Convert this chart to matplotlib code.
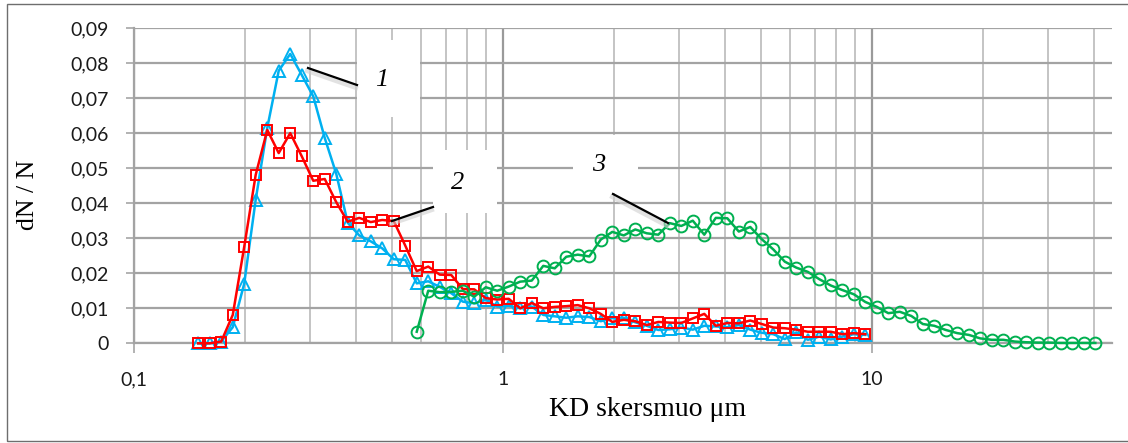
import matplotlib
matplotlib.use('Agg')
import matplotlib.pyplot as plt
from matplotlib.patches import Rectangle
from matplotlib.lines import Line2D
from matplotlib.ticker import LogLocator, NullFormatter

# ---------------- data ----------------
x_bins = [0.1493, 0.1604, 0.1723, 0.1852, 0.1989, 0.2137, 0.2297, 0.2467, 0.2651, 0.2848,
          0.3060, 0.3288, 0.3532, 0.3795, 0.4077, 0.4381, 0.4706, 0.5057, 0.5433, 0.5837,
          0.6271, 0.6738, 0.7239, 0.7778, 0.8357, 0.8979, 0.9647, 1.0365, 1.1136, 1.1965,
          1.2855, 1.3811, 1.4839, 1.5943, 1.7129, 1.8404, 1.9773, 2.1245, 2.2825, 2.4524,
          2.6349, 2.8309, 3.0416, 3.2679, 3.5110, 3.7723, 4.0530, 4.3546, 4.6786, 5.0267,
          5.4007, 5.8026, 6.2343, 6.6981, 7.1965, 7.7320, 8.3073, 8.9254, 9.5895, 10.30,
          11.07, 11.89, 12.78, 13.73, 14.75, 15.85, 17.02, 18.29, 19.65, 21.11,
          22.68, 24.37, 26.18, 28.13, 30.22, 32.47, 34.89, 37.49, 40.28]

curve1_y = [0.0000, 0.0000, 0.0005, 0.0046, 0.0170, 0.0410, 0.0615, 0.0778, 0.0826, 0.0766,
            0.0705, 0.0586, 0.0484, 0.0344, 0.0308, 0.0291, 0.0271, 0.0240, 0.0238, 0.0171,
            0.0177, 0.0161, 0.0143, 0.0119, 0.0114, 0.0124, 0.0105, 0.0107, 0.0100, 0.0105,
            0.0081, 0.0077, 0.0073, 0.0077, 0.0075, 0.0063, 0.0072, 0.0073, 0.0060, 0.0050,
            0.0038, 0.0040, 0.0045, 0.0039, 0.0050, 0.0048, 0.0046, 0.0052, 0.0039, 0.0030,
            0.0026, 0.0012, 0.0031, 0.0010, 0.0019, 0.0011, 0.0019, 0.0026, 0.0024]

curve2_y = [0.0000, 0.0000, 0.0005, 0.0081, 0.0275, 0.0481, 0.0609, 0.0543, 0.0600, 0.0534,
            0.0464, 0.0469, 0.0403, 0.0347, 0.0358, 0.0346, 0.0352, 0.0349, 0.0279, 0.0206,
            0.0219, 0.0196, 0.0195, 0.0155, 0.0154, 0.0129, 0.0125, 0.0127, 0.0100, 0.0115,
            0.0100, 0.0104, 0.0106, 0.0109, 0.0100, 0.0084, 0.0061, 0.0067, 0.0063, 0.0052,
            0.0061, 0.0059, 0.0058, 0.0071, 0.0084, 0.0050, 0.0058, 0.0057, 0.0065, 0.0055,
            0.0045, 0.0043, 0.0039, 0.0033, 0.0033, 0.0033, 0.0026, 0.0029, 0.0026]

curve3_y = [0.0033, 0.0150, 0.0146, 0.0147, 0.0150, 0.0133, 0.0160, 0.0150, 0.0162, 0.0176,
            0.0179, 0.0221, 0.0214, 0.0247, 0.0253, 0.0248, 0.0296, 0.0318, 0.0308, 0.0325,
            0.0314, 0.0310, 0.0343, 0.0335, 0.0350, 0.0310, 0.0358, 0.0357, 0.0319, 0.0332,
            0.0297, 0.0268, 0.0233, 0.0216, 0.0204, 0.0183, 0.0165, 0.0152, 0.0140, 0.0118,
            0.0104, 0.0086, 0.0090, 0.0078, 0.0055, 0.0050, 0.0038, 0.0029, 0.0024, 0.0014,
            0.0010, 0.0010, 0.0005, 0.0003, 0.0002, 0.0002, 0.0001, 0.0001, 0.0001, 0.0001]

curve1_x = x_bins[:59]
curve2_x = x_bins[:59]
curve3_x = x_bins[19:79]

y_ticks = [0, 0.01, 0.02, 0.03, 0.04, 0.05, 0.06, 0.07, 0.08, 0.09]
y_tick_labels = ["0", "0,01", "0,02", "0,03", "0,04", "0,05", "0,06", "0,07", "0,08", "0,09"]
x_ticks = [0.1, 1, 10]
x_tick_labels = ["0,1", "1", "10"]
curve_labels = ["1", "2", "3"]
x_title = "KD skersmuo μm"
y_title = "dN / N"

# ---------------- figure ----------------
W, H = 1128, 443
fig = plt.figure(figsize=(W / 100, H / 100), dpi=100)
fig.patch.set_facecolor('white')


def fx(px):
    return px / W


def fy(py):
    return 1 - py / H


ax_left, ax_right, ax_top, ax_bot = 134, 1112, 28, 343.3
ax = fig.add_axes([fx(ax_left), fy(ax_bot), (ax_right - ax_left) / W, (ax_bot - ax_top) / H])
ax.set_xscale('log')
ax.set_xlim(0.1, 44.7)
ax.set_ylim(0, 0.09)

tick_font = dict(family=['Lato', 'DejaVu Sans'], size=14, color='#1a1a1a')
ax.set_yticks(y_ticks)
ax.set_yticklabels(y_tick_labels, **tick_font)
ax.set_xticks(x_ticks)
ax.set_xticklabels(x_tick_labels, **tick_font)
ax.xaxis.set_minor_locator(LogLocator(base=10, subs=range(2, 10)))
ax.xaxis.set_minor_formatter(NullFormatter())

ax.tick_params(axis='y', which='major', length=6, width=1.2, color='#A6A6A6', pad=12, direction='out')
ax.tick_params(axis='x', which='major', length=7, width=1.2, color='#A6A6A6', pad=13, direction='out')
ax.tick_params(axis='x', which='minor', length=0)

ax.set_axisbelow(True)
ax.yaxis.grid(True, which='major', color='#A3A3A3', lw=1.6)
ax.xaxis.grid(True, which='minor', color='#C4C4C4', lw=1.4)
ax.xaxis.grid(True, which='major', color='#9A9A9A', lw=1.6)

for s in ['top', 'right']:
    ax.spines[s].set_visible(False)
for s in ['left', 'bottom']:
    ax.spines[s].set_color('#A3A3A3')
    ax.spines[s].set_linewidth(1.6)

ax.plot(curve1_x, curve1_y, color='#00B0F0', lw=1.8, marker='^', ms=8, mfc='none',
        mew=1.4, clip_on=False, zorder=3)
ax.plot(curve2_x, curve2_y, color='#FF0000', lw=1.8, marker='s', ms=7.5, mfc='none',
        mew=1.4, clip_on=False, zorder=4)
ax.plot(curve3_x, curve3_y, color='#00B050', lw=1.8, marker='o', ms=8.5, mfc='none',
        mew=1.4, clip_on=False, zorder=5)

# ---------------- callout labels ----------------
boxes = [(357, 40, 420, 117), (433, 150, 497, 213), (573, 135, 638, 193)]
label_pos = [(382, 80), (458, 183), (599, 165)]
leaders = [((308, 68), (357, 85)), ((392, 221), (433, 207)), ((613, 194), (668, 223))]

for (x0, y0, x1, y1), (lx, ly), ((ax0, ay0), (ax1, ay1)), txt in zip(boxes, label_pos, leaders, curve_labels):
    fig.add_artist(Rectangle((fx(x0), fy(y1)), (x1 - x0) / W, (y1 - y0) / H,
                             transform=fig.transFigure, facecolor='white', edgecolor='none', zorder=3))
    # soft shadow
    fig.add_artist(Line2D([fx(ax0 - 1), fx(ax1 - 1)], [fy(ay0 + 3), fy(ay1 + 3)],
                          transform=fig.transFigure, color='#CFCFCF', lw=3, alpha=0.6, zorder=4))
    fig.add_artist(Line2D([fx(ax0), fx(ax1)], [fy(ay0), fy(ay1)],
                          transform=fig.transFigure, color='black', lw=1.6, zorder=5))
    fig.text(fx(lx), fy(ly), txt, ha='center', va='center', fontsize=19,
             family='Liberation Serif', style='italic', zorder=6)

# ---------------- axis titles ----------------
fig.text(fx(648), fy(410), x_title, ha='center', va='center', fontsize=20,
         family='Liberation Serif')
fig.text(fx(28), fy(195), y_title, ha='center', va='center', fontsize=18.5,
         family='Liberation Serif', rotation=90)

# chart border
fig.add_artist(Rectangle((fx(7), fy(440.5)), 1.5, (440.5 - 3.5) / H, transform=fig.transFigure,
                         fill=False, edgecolor='#6E6E6E', lw=1.0, zorder=10))

fig.savefig('out.png', dpi=100)
